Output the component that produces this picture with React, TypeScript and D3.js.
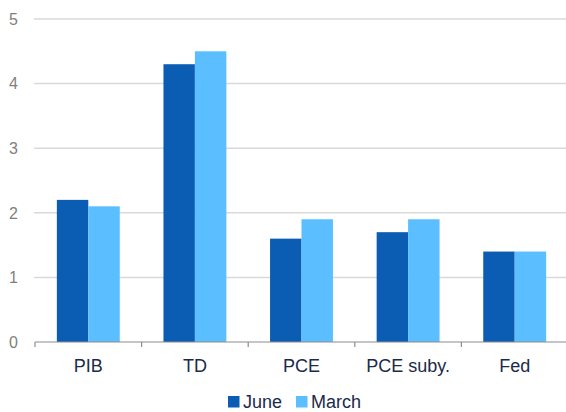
import * as d3 from "d3";

const categories = ["PIB", "TD", "PCE", "PCE suby.", "Fed"];
const june = [2.2, 4.3, 1.6, 1.7, 1.4];
const march = [2.1, 4.5, 1.9, 1.9, 1.4];
const yTicks = [0, 1, 2, 3, 4, 5];
const seriesNames = ["June", "March"];
const colors = ["#0b5db4", "#5bbeff"];

const W = 566;
const H = 412;
const margin = { left: 35, right: -2, top: 19, bottom: 70 };

export default function App() {
  const x = d3
    .scaleBand<string>()
    .domain(categories)
    .range([margin.left, W - margin.right])
    .padding(0);
  const y = d3
    .scaleLinear()
    .domain([0, 5])
    .range([H - margin.bottom, margin.top]);

  const bw = x.bandwidth();
  const barW = bw * 0.295;
  const groupOff = bw * 0.205;
  const series = [june, march];

  return (
    <svg
      width={W}
      height={H}
      style={{ position: "absolute", left: 0, top: 0, background: "#fff" }}
      fontFamily="'Liberation Sans', Arial, sans-serif"
    >
      {/* grid */}
      {yTicks.map((t) => (
        <g key={t}>
          {t > 0 && (
            <line
              x1={margin.left - 1}
              x2={W}
              y1={y(t)}
              y2={y(t)}
              stroke="#d9d9d9"
              strokeWidth={1.5}
            />
          )}
          <text
            x={18}
            y={y(t)}
            dy="0.36em"
            textAnchor="end"
            fontSize={16}
            fill="#7f7f7f"
          >
            {t}
          </text>
        </g>
      ))}

      {/* bars */}
      {categories.map((c, i) => (
        <g key={c}>
          {series.map((s, j) => (
            <rect
              key={j}
              x={(x(c) ?? 0) + groupOff + j * barW}
              y={y(s[i])}
              width={barW}
              height={y(0) - y(s[i])}
              fill={colors[j]}
            />
          ))}
        </g>
      ))}

      {/* x axis */}
      <line
        x1={margin.left}
        x2={W}
        y1={y(0)}
        y2={y(0)}
        stroke="#8c8c8c"
        strokeWidth={1.2}
      />
      {categories.map((c, i) => (
        <line
          key={"t" + i}
          x1={x(c)}
          x2={x(c)}
          y1={y(0)}
          y2={y(0) + 5}
          stroke="#8c8c8c"
          strokeWidth={1.2}
        />
      ))}
      {categories.map((c) => (
        <text
          key={"l" + c}
          x={(x(c) ?? 0) + bw / 2}
          y={372}
          textAnchor="middle"
          fontSize={18}
          fill="#1b2a4a"
        >
          {c}
        </text>
      ))}

      {/* legend */}
      {seriesNames.map((n, j) => {
        const lx = j === 0 ? 228 : 296;
        return (
          <g key={n}>
            <rect x={lx} y={396} width={11.5} height={11.5} fill={colors[j]} />
            <text x={lx + 15} y={408} fontSize={18} fill="#1b2a4a">
              {n}
            </text>
          </g>
        );
      })}
    </svg>
  );
}
